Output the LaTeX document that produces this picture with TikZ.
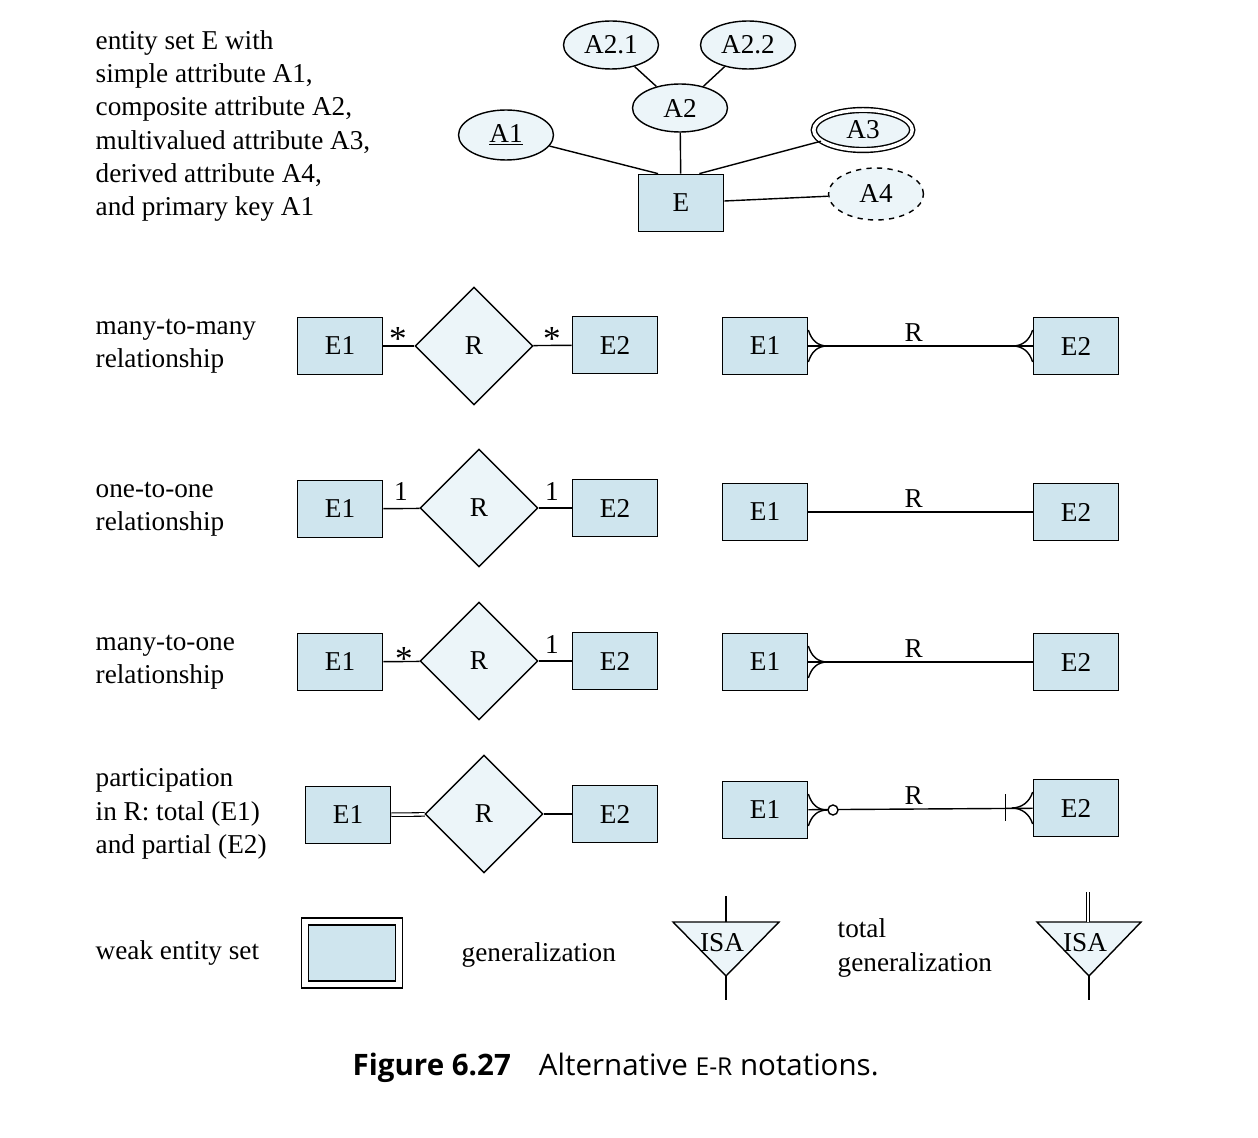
\documentclass[tikz,border=0pt]{standalone}
\usepackage{fontspec}
\setmainfont{Liberation Serif}
\newfontfamily\capfont{Open Sans}
\usetikzlibrary{shapes.geometric}
\definecolor{entblue}{RGB}{207,229,238}
\definecolor{attblue}{RGB}{236,245,249}

\begin{document}
\begin{tikzpicture}[x=0.02cm, y=-0.02cm, line width=0.8pt,
    every node/.style={font=\fontsize{15.5}{19}\selectfont},
    entity/.style={draw, line width=1pt, fill=entblue, minimum width=1.7cm, minimum height=1.14cm, inner sep=0pt},
    attr/.style={draw, ellipse, fill=attblue, minimum width=1.9cm, minimum height=0.96cm, inner sep=0pt},
    rel/.style={draw, diamond, fill=attblue, minimum width=2.36cm, minimum height=2.36cm, inner sep=0pt},
    lbl/.style={align=left, anchor=west, inner sep=0pt},
    card/.style={inner sep=0pt},
    star/.style={inner sep=0pt, font=\fontsize{20}{20}\selectfont}]
    \useasboundingbox (0,0) rectangle (1258,1138);

    % TOP: entity set with attributes
        \node[lbl] (txtE) at (95,126) {entity set E with\\simple attribute A1,\\composite attribute A2,\\multivalued attribute A3,\\derived attribute A4,\\and primary key A1};
        \node[entity] (e) at (681,203) {E};
        \node[attr, minimum height=1cm] (a1) at (506,135) {\underline{A1}};
        \node[attr] (a2) at (680,108) {A2};
        \node[attr] (a21) at (611,45) {A2.1};
        \node[attr] (a22) at (748,45) {A2.2};
        \node[attr, double, double distance=2pt, minimum width=1.97cm, minimum height=0.8cm] (a3) at (863,130) {A3};
        \node[attr, dashed, minimum height=1.04cm] (a4) at (876,194) {A4};
        \draw (a21) -- (a2);
        \draw (a22) -- (a2);
        \draw (a1) -- (e.128);
        \draw (a2) -- (e);
        \draw (a3) -- (e.58);
        \draw (e) -- (a4);

    % Many-to-many
        \node[lbl] (txtmm) at (95,346) {many-to-many\\relationship};
        \node[entity] (e1mm) at (340,346) {E1};
        \node[rel] (rmm) at (474,346) {R};
        \node[entity] (e2mm) at (615,345) {E2};
        \draw (e1mm) -- (rmm);
        \draw (rmm) -- (e2mm);
        \node[star] (c1mm) at (398,339) {*};
        \node[star] (c2mm) at (552,339) {*};
        \node[entity] (x1mm) at (765,346) {E1};
        \node[entity] (x2mm) at (1076,346) {E2};
        \draw (x1mm) -- (x2mm) node[pos=0.47, above=2pt, inner sep=0pt] (lmm) {R};
        \draw (x1mm.east) ++(0,-16) .. controls +(3,10) and +(-10,0) .. ++(19,16) .. controls +(-10,0) and +(3,-10) .. ++(-19,16);
        \draw (x2mm.west) ++(0,-16) .. controls +(-3,10) and +(10,0) .. ++(-20,16) .. controls +(10,0) and +(-3,-10) .. ++(20,16);

    % One-to-one
        \node[lbl] (txtoo) at (95,509) {one-to-one\\relationship};
        \node[entity] (e1oo) at (340,509) {E1};
        \node[rel] (roo) at (479,508) {R};
        \node[entity] (e2oo) at (615,508) {E2};
        \draw (e1oo) -- (roo);
        \draw (roo) -- (e2oo);
        \node[card] (c1oo) at (401,492) {1};
        \node[card] (c2oo) at (552,492) {1};
        \node[entity] (x1oo) at (765,512) {E1};
        \node[entity] (x2oo) at (1076,512) {E2};
        \draw (x1oo) -- (x2oo) node[pos=0.47, above=2pt, inner sep=0pt] (loo) {R};

    % Many-to-one
        \node[lbl] (txtmo) at (95,662) {many-to-one\\relationship};
        \node[entity] (e1mo) at (340,662) {E1};
        \node[rel] (rmo) at (479,661) {R};
        \node[entity] (e2mo) at (615,661) {E2};
        \draw (e1mo) -- (rmo);
        \draw (rmo) -- (e2mo);
        \node[star] (c1mo) at (404,659) {*};
        \node[card] (c2mo) at (552,645) {1};
        \node[entity] (x1mo) at (765,662) {E1};
        \node[entity] (x2mo) at (1076,662) {E2};
        \draw (x1mo) -- (x2mo) node[pos=0.47, above=2pt, inner sep=0pt] (lmo) {R};
        \draw (x1mo.east) ++(0,-16) .. controls +(3,10) and +(-10,0) .. ++(19,16) .. controls +(-10,0) and +(3,-10) .. ++(-19,16);

    % Participation
        \node[lbl] (txtpt) at (95,814) {participation\\in R: total (E1)\\and partial (E2)};
        \node[entity] (e1pt) at (348,815) {E1};
        \node[rel] (rpt) at (484,814) {R};
        \node[entity] (e2pt) at (615,814) {E2};
        \draw[double, double distance=1.4pt, line width=0.6pt] (e1pt) -- (rpt);
        \draw (rpt) -- (e2pt);
        \node[entity] (x1pt) at (765,810) {E1};
        \node[entity] (x2pt) at (1076,808) {E2};
        \draw (x1pt) -- (x2pt) node[pos=0.47, above=2pt, inner sep=0pt] (lpt) {R};
        \draw (x1pt.east) ++(0,-16) .. controls +(3,10) and +(-10,0) .. ++(19,16) .. controls +(-10,0) and +(3,-10) .. ++(-19,16);
        \node[circle, draw, fill=white, minimum size=0.2cm, inner sep=0pt] (opt) at (833,810) {};
        \draw (x2pt.west) ++(0,-16) .. controls +(-3,10) and +(10,0) .. ++(-21,16) .. controls +(10,0) and +(-3,-10) .. ++(21,16);
        \draw (x2pt.west) ++(-27,-14) -- ++(0,27);

    % BOTTOM: weak entity set and generalization
        \node[lbl] (txtweak) at (95,953) {weak entity set};
        \node[entity, double, double distance=3pt, minimum width=1.88cm, minimum height=1.26cm] (weak) at (352,953) {};
        \node[lbl] (txtgen) at (461,955) {generalization};
        \coordinate (g1l) at (673,922);
        \coordinate (g1r) at (779,922);
        \coordinate (g1v) at (726,976);
        \coordinate (g1in) at (726,922);
        \coordinate (g1top) at (726,896);
        \coordinate (g1bot) at (726,1000);
        \draw[fill=attblue] (g1l) -- (g1r) -- (g1v) -- cycle;
        \node[inner sep=0pt] (isa1) at (722,943) {ISA};
        \draw (g1top) -- (g1in);
        \draw (g1v) -- (g1bot);
        \node[lbl] (txttot) at (837,948) {total\\generalization};
        \coordinate (g2l) at (1037,922);
        \coordinate (g2r) at (1141,922);
        \coordinate (g2v) at (1089,976);
        \coordinate (g2in) at (1088,922);
        \coordinate (g2top) at (1088,892);
        \coordinate (g2bot) at (1089,1000);
        \draw[fill=attblue] (g2l) -- (g2r) -- (g2v) -- cycle;
        \node[inner sep=0pt] (isa2) at (1085,943) {ISA};
        \draw[double, double distance=1.6pt, line width=0.6pt] (g2top) -- (g2in);
        \draw (g2v) -- (g2bot);

    % Caption
        \node[anchor=west, inner sep=0pt, font=\capfont\fontsize{16.8}{20}\selectfont] (caption) at (352,1068) {\textbf{Figure 6.27}\hspace{16pt}Alternative {\fontsize{14}{16}\selectfont E-R} notations.};
\end{tikzpicture}
\end{document}
